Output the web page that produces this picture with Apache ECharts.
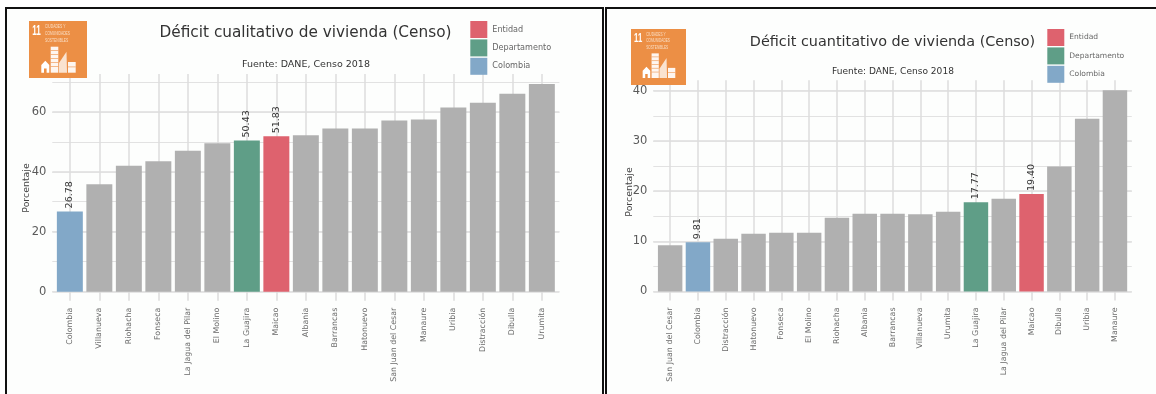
<!DOCTYPE html>
<html><head><meta charset="utf-8">
<style>html,body{margin:0;padding:0;background:#fff}#c{width:1156px;height:394px}</style>
<script src="https://cdn.jsdelivr.net/npm/echarts@6/dist/echarts.min.js"></script>
</head><body><div id="c"></div>
<script>
const catsCual = ['Colombia','Villanueva','Riohacha','Fonseca','La Jagua del Pilar','El Molino','La Guajira','Maicao','Albania','Barrancas','Hatonuevo','San Juan del Cesar','Manaure','Uribia','Distracción','Dibulla','Urumita'];
const valsCual = [26.78,35.8,42,43.5,47,49.5,50.43,51.83,52.2,54.4,54.4,57.1,57.4,61.4,63,66,69.3];
const catsCuan = ['San Juan del Cesar','Colombia','Distracción','Hatonuevo','Fonseca','El Molino','Riohacha','Albania','Barrancas','Villanueva','Urumita','La Guajira','La Jagua del Pilar','Maicao','Dibulla','Uribia','Manaure'];
const valsCuan = [9.2,9.81,10.5,11.5,11.7,11.7,14.7,15.5,15.5,15.4,15.9,17.77,18.5,19.40,24.9,34.4,40.1];
const legendNames = ['Entidad','Departamento','Colombia'];
const highlight = {Entidad:'Maicao',Departamento:'La Guajira',Colombia:'Colombia'};
const colors = {Entidad:'#DE626E',Departamento:'#5F9E87',Colombia:'#82A8C8',Otros:'#B0B0B0'};
const titles = ['Déficit cualitativo de vivienda (Censo)','Déficit cuantitativo de vivienda (Censo)'];
const subtitle = 'Fuente: DANE, Censo 2018';
const sdgNum = '11';
const sdgLines = ['CIUDADES Y','COMUNIDADES','SOSTENIBLES'];
const FONT = '"DejaVu Sans"';

const panels = [
 {cats:catsCual,vals:valsCual,l:52.3,r:559.4,step:29.5,top:74,bottom:291.7,max:72.6,interval:20,minor:10,tmax:60,
  titleX:305.5,titleY:35,titleFs:15.3,subX:306,subY:65,subFs:9.5,logo:[29,21,58,57],legX:470.3,legY:21,legFs:8.1,nameX:27,nameY:188},
 {cats:catsCuan,vals:valsCuan,l:653.3,r:1131.8,step:27.8,top:80.3,bottom:291.5,max:42.07,interval:10,minor:5,tmax:40,
  titleX:892.5,titleY:44,titleFs:14.4,subX:893,subY:72,subFs:9.05,logo:[631,29,55,56],legX:1047.3,legY:29,legFs:7.55,nameX:630,nameY:192}
];
const H = 394, W = 1156;
const grids=[], xAxes=[], yAxes=[], series=[], legends=[], titleList=[], graphics=[];
const GRID = '#dcdcdc';

panels.forEach((p,pi)=>{
  const bg = grids.length;
  grids.push({left:p.l,width:p.r-p.l,top:p.top,height:p.bottom-p.top});
  xAxes.push({gridIndex:bg,type:'value',min:0,max:1,show:false});
  yAxes.push({gridIndex:bg,type:'value',min:0,max:p.max,interval:p.interval,
    axisLine:{show:false},axisTick:{show:false},
    axisLabel:{color:'#5a5a5a',fontSize:11.5,fontFamily:FONT,margin:6,
      formatter:v=>v>p.tmax?'':String(v),showMaxLabel:false},
    splitLine:{show:true,showMaxLine:false,lineStyle:{color:GRID,width:1.5}}});
  const ma = grids.length;
  grids.push({left:p.l,width:p.r-p.l,top:p.top,height:p.bottom-p.top});
  xAxes.push({gridIndex:ma,type:'value',min:0,max:1,show:false});
  yAxes.push({gridIndex:ma,type:'value',min:0,max:p.max,interval:p.minor,
    axisLine:{show:false},axisTick:{show:false},axisLabel:{show:false},
    splitLine:{show:true,showMaxLine:false,lineStyle:{color:'#e2e2e2',width:1.2}}});
  const fg = grids.length;
  const half = p.step*p.cats.length/2, mid=(p.l+p.r)/2;
  grids.push({left:mid-half,width:half*2,top:p.top,height:p.bottom-p.top});
  xAxes.push({gridIndex:fg,type:'category',data:p.cats,boundaryGap:true,
    axisLine:{show:false},
    axisTick:{show:true,alignWithLabel:true,length:9,lineStyle:{color:GRID,width:1.5}},
    splitLine:{show:true,alignWithLabel:true,lineStyle:{color:GRID,width:1.5}},
    axisLabel:{interval:0,rotate:90,fontSize:7.9,color:'#6a6a6a',fontFamily:FONT,margin:16,
      verticalAlign:'middle'}});
  yAxes.push({gridIndex:fg,type:'value',min:0,max:p.max,show:false,splitLine:{show:false}});
  ['Otros',...legendNames].forEach(name=>{
    const isHi = c => Object.values(highlight).includes(c);
    const data = p.cats.map((c,i)=> name==='Otros' ? (isHi(c)?null:p.vals[i]) : (c===highlight[name]?p.vals[i]:null));
    series.push({type:'bar',name,xAxisIndex:fg,yAxisIndex:fg,data,barWidth:'88%',barGap:'-100%',
      itemStyle:{color:colors[name]},z:5,
      label:name==='Otros'?{show:false}:{show:true,position:'top',rotate:90,distance:3,align:'left',verticalAlign:'middle',
        fontSize:9.5,color:'#333',fontFamily:FONT,formatter:o=>o.value==null?'':o.value.toFixed(2)}});
  });
  legends.push({data:legendNames.map(n=>({name:n,icon:'rect'})),orient:'vertical',left:p.legX,top:p.legY,itemWidth:17,itemHeight:17,itemGap:1.4,
    selectedMode:false,textStyle:{fontSize:p.legFs,color:'#666',fontFamily:FONT},padding:0});
  titleList.push({text:titles[pi],left:p.titleX,top:p.titleY-9,textAlign:'center',padding:0,
    textStyle:{fontSize:p.titleFs,fontWeight:'normal',color:'#333',fontFamily:FONT}});
  titleList.push({text:subtitle,left:p.subX,top:p.subY-5,textAlign:'center',padding:0,
    textStyle:{fontSize:p.subFs,fontWeight:'normal',color:'#333',fontFamily:FONT}});
  graphics.push({type:'text',x:p.nameX,y:p.nameY,rotation:Math.PI/2,z:20,
    style:{text:'Porcentaje',font:'9.4px '+FONT,fill:'#444',align:'center',verticalAlign:'middle'}});
  // SDG 11 badge (decoration), drawn in a 58-unit box
  const [lx,ly,lw,lh]=p.logo, s=lw/58;
  const wht={fill:'#fff',opacity:.92};
  const bar=(x,y,w,h)=>({type:'rect',z:33,shape:{x,y,width:w,height:h},style:{fill:'#EC8F45',opacity:.75}});
  const floors=[];
  [29,33,37,41,45].forEach(y=>floors.push(bar(21.7,y,7.6,.8)));
  floors.push(bar(39,45.5,7.7,.8));
  graphics.push({type:'group',x:lx,y:ly,children:[
    {type:'rect',z:30,shape:{x:0,y:0,width:lw,height:lh},style:{fill:'#EC8F45'}},
    {type:'group',scaleX:s,scaleY:s,children:[
      {type:'text',z:32,x:3.2,y:3.2,scaleX:.58,style:{text:sdgNum,font:'bold 14px "Liberation Sans"',fill:'#fff'}},
      ...sdgLines.map((t,i)=>({type:'text',z:32,x:16,y:3.2+i*7,scaleX:.62,
        style:{text:t,font:'5.4px "Liberation Sans"',fill:'#f9dcc2'}})),
      {type:'rect',z:32,shape:{x:21.7,y:25.7,width:7.6,height:26},style:wht},
      {type:'polygon',z:32,shape:{points:[[37.5,30.7],[38,51.7],[30,51.7],[30,42]]},style:{fill:'#fff',opacity:.75}},
      {type:'rect',z:32,shape:{x:39,y:41,width:7.7,height:10.7},style:wht},
      {type:'polygon',z:32,shape:{points:[[12.3,44],[16.3,39.7],[20.3,44],[20.3,51.7],[17.6,51.7],[17.6,47.5],[15,47.5],[15,51.7],[12.3,51.7]]},style:{fill:'#fff'}},
      ...floors
    ]}
  ]});
});
const frame=(x,w)=>({type:'rect',z:-1,shape:{x,y:8,width:w,height:H+20},style:{fill:'#fdfefd',stroke:'#111',lineWidth:2}});
graphics.unshift(frame(6,597),frame(606,W+20-606));

const chart = echarts.init(document.getElementById('c'),null,{renderer:'canvas'});
chart.setOption({animation:false,backgroundColor:'#fff',title:titleList,legend:legends,grid:grids,xAxis:xAxes,yAxis:yAxes,series,graphic:graphics});
</script></body></html>
